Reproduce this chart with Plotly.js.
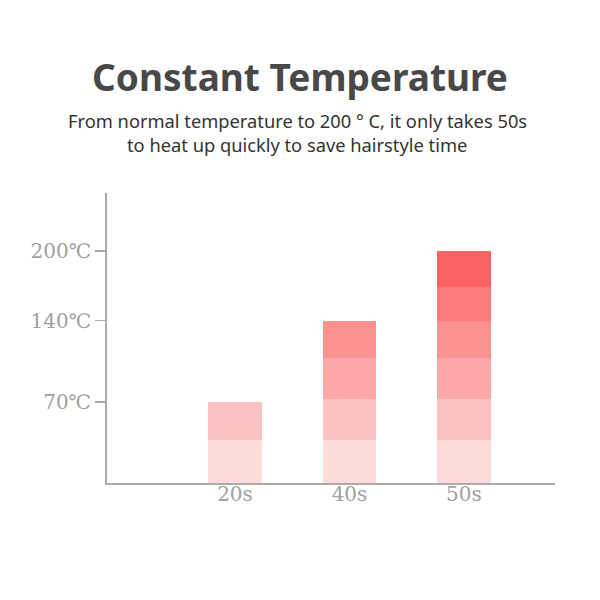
<!DOCTYPE html>
<html>
<head>
<meta charset="utf-8">
<script src="https://cdn.plot.ly/plotly-3.0.1.min.js"></script>
<style>html,body{margin:0;padding:0;background:#fff;}#chart{width:600px;height:600px;}</style>
</head>
<body>
<div id="chart"></div>
<script>
const categories = ['20s', '40s', '50s'];
const layer1 = [37, 37, 37];
const layer2 = [33, 35, 35];
const layer3 = [null, 36, 36];
const layer4 = [null, 32, 32];
const layer5 = [null, null, 29];
const layer6 = [null, null, 31];
const layerColors = ['#fedcdc', '#fdc3c3', '#fca8a8', '#fb9191', '#fb7b7b', '#fd6262'];
const tickValues = [70, 140, 200];
const tickLabels = ['70℃', '140℃', '200℃'];
const titleText = 'Constant Temperature';
const subtitleLine1 = 'From normal temperature to 200 ° C, it only takes 50s';
const subtitleLine2 = 'to heat up quickly to save hairstyle time';

const layers = [layer1, layer2, layer3, layer4, layer5, layer6];
const data = layers.map((vals, i) => ({
  type: 'bar',
  x: categories,
  y: vals,
  width: 0.47,
  marker: {color: layerColors[i], line: {width: 0}},
  hoverinfo: 'skip',
  showlegend: false
}));

const serif = '"DejaVu Serif", "Liberation Serif", serif';
const sans = '"Noto Sans", "Open Sans", sans-serif';
const layout = {
  width: 600, height: 600,
  margin: {l: 107, r: 45, t: 193, b: 117},
  paper_bgcolor: '#ffffff',
  plot_bgcolor: '#ffffff',
  barmode: 'stack',
  title: {
    text: '<b>' + titleText + '</b>',
    font: {family: sans, size: 37, color: '#484848'},
    x: 0.5, xanchor: 'center', y: 1 - 78 / 600, yanchor: 'middle'
  },
  annotations: [
    {text: subtitleLine1, xref: 'paper', yref: 'paper', x: 0.425, y: (483 - 121) / 290, xanchor: 'center', yanchor: 'middle', showarrow: false,
     font: {family: sans, size: 18.3, color: '#333333'}},
    {text: subtitleLine2, xref: 'paper', yref: 'paper', x: 0.425, y: (483 - 145) / 290, xanchor: 'center', yanchor: 'middle', showarrow: false,
     font: {family: sans, size: 18.3, color: '#333333'}}
  ],
  xaxis: {
    type: 'category',
    range: [-1.118, 2.795],
    showline: true, linecolor: '#aaaaaa', linewidth: 2,
    showgrid: false, zeroline: false,
    ticks: '', ticklabelstandoff: -8,
    tickfont: {family: serif, size: 20, color: '#a0a0a0'},
    fixedrange: true
  },
  yaxis: {
    range: [0, 250],
    showline: true, linecolor: '#aaaaaa', linewidth: 2,
    showgrid: false, zeroline: false,
    tickmode: 'array', tickvals: tickValues, ticktext: tickLabels,
    ticks: 'outside', ticklen: 10, tickwidth: 1.5, tickcolor: '#aaaaaa',
    tickfont: {family: serif, size: 20, color: '#a0a0a0'},
    fixedrange: true
  }
};

Plotly.newPlot('chart', data, layout, {displayModeBar: false, staticPlot: true});
</script>
</body>
</html>
